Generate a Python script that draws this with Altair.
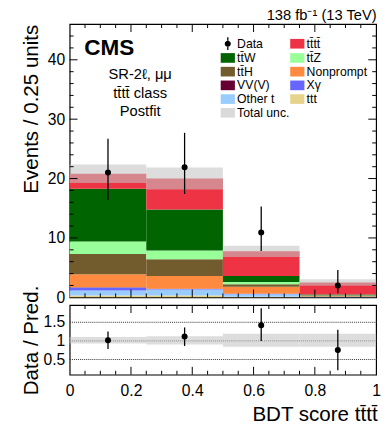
import altair as alt
import pandas as pd

# ---------------- data ----------------
bin_lo = [0.0, 0.25, 0.5, 0.75]
bin_hi = [0.25, 0.5, 0.75, 1.0]
bin_mid = [0.125, 0.375, 0.625, 0.875]

# processes, stacked bottom -> top
proc_names = ["ttt", "Other t", "X\u03b3", "VV(V)", "Nonprompt",
              "tt\u0304H", "tt\u0304Z", "tt\u0304W", "tt\u0304tt\u0304"]
proc_colors = ["#e6d48c", "#99ccff", "#6666ff", "#660033", "#fd8a3e",
               "#725b2c", "#99ff99", "#006400", "#ee3344"]

ttt_yield = [0.3, 0.3, 0.1, 0.03]
other_t_yield = [0.85, 1.0, 0.4, 0.05]
xgamma_yield = [0.5, 0.1, 0.1, 0.02]
vvv_yield = [0.05, 0.05, 0.02, 0.01]
nonprompt_yield = [2.2, 2.15, 1.18, 0.08]
tth_yield = [3.4, 2.8, 0.4, 0.1]
ttz_yield = [2.1, 1.5, 0.4, 0.05]
ttw_yield = [8.9, 6.9, 1.0, 0.12]
tttt_yield = [2.5, 5.2, 4.15, 2.04]
total_unc = [1.55, 1.85, 0.95, 0.55]

data_y = [21.0, 21.9, 10.9, 2.0]
data_hi = [26.7, 27.7, 15.3, 4.6]
data_lo = [16.4, 17.4, 7.8, 0.7]

ratio_y = [1.0, 1.10, 1.40, 0.74]
ratio_hi = [1.23, 1.34, 1.85, 1.28]
ratio_lo = [0.77, 0.85, 0.98, 0.21]
ratio_unc = [0.085, 0.11, 0.17, 0.17]

legend_names = ["Data", "tt\u0304tt\u0304", "tt\u0304W", "tt\u0304Z", "tt\u0304H",
                "Nonprompt", "VV(V)", "X\u03b3", "Other t", "ttt", "Total unc."]
legend_colors = ["#000000", "#ee3344", "#006400", "#99ff99", "#725b2c",
                 "#fd8a3e", "#660033", "#6666ff", "#99ccff", "#e6d48c", "#dadada"]

main_y_labels = [0, 10, 20, 30, 40]
ratio_y_labels = [0.5, 1.0, 1.5]
x_labels = [0, 0.2, 0.4, 0.6, 0.8, 1.0]

# ---------------- tables ----------------
yield_lists = [ttt_yield, other_t_yield, xgamma_yield, vvv_yield, nonprompt_yield,
               tth_yield, ttz_yield, ttw_yield, tttt_yield]
rows = []
for b in range(4):
    base = 0.0
    for k, name in enumerate(proc_names):
        v = yield_lists[k][b]
        rows.append({"lo": bin_lo[b], "hi": bin_hi[b], "process": name,
                     "y0": base, "y1": base + v})
        base += v
stack_df = pd.DataFrame(rows)
totals = [sum(yl[b] for yl in yield_lists) for b in range(4)]

band_df = pd.DataFrame({"lo": bin_lo, "hi": bin_hi,
                        "blo": [t - u for t, u in zip(totals, total_unc)],
                        "bhi": [t + u for t, u in zip(totals, total_unc)]})
data_df = pd.DataFrame({"x": bin_mid, "y": data_y, "ylo": data_lo, "yhi": data_hi})
ratio_df = pd.DataFrame({"x": bin_mid, "y": ratio_y, "ylo": ratio_lo, "yhi": ratio_hi})
rband_df = pd.DataFrame({"lo": bin_lo, "hi": bin_hi,
                         "blo": [1 - u for u in ratio_unc],
                         "bhi": [1 + u for u in ratio_unc]})
legend_df = pd.DataFrame({"entry": legend_names})

# ---------------- geometry ----------------
W = 313
H_MAIN = 279
H_RATIO = 71
FONT = "Liberation Sans"
UNC_COLOR = "#c4c4c4"
UNC_OPACITY = 0.58

xs_main = alt.Scale(domain=[0, 1], nice=False, zero=False)
ys_main = alt.Scale(domain=[0, 46], nice=False, zero=False)
xs_ratio = alt.Scale(domain=[0, 1], nice=False, zero=False)
ys_ratio = alt.Scale(domain=[0.09, 1.93], nice=False, zero=False)

x_major = [0.2, 0.4, 0.6, 0.8]
x_minor = [round(0.05 * i, 2) for i in range(1, 20) if i % 4 != 0]
y_major = [10, 20, 30, 40]
y_minor = [v for v in range(2, 46, 2) if v % 10 != 0]

LBL = dict(labelFont=FONT, labelFontSize=16, labelColor="black",
           titleFont=FONT, titleFontSize=21, titleColor="black",
           titleFontWeight="normal")

# axes (same definition given to every layer so they merge cleanly)
ax_main_x = alt.Axis(values=x_labels, labels=False, ticks=False, tickSize=0,
                     domain=False, grid=False, title=None)
ax_main_y = alt.Axis(values=main_y_labels, title="Events / 0.25 units",
                     titleAnchor="end", titleX=-33, titleBaseline="alphabetic",
                     ticks=False, tickSize=0, domain=False, grid=False,
                     labelPadding=5, labelFlush=False, **LBL)
ax_ratio_x = alt.Axis(values=x_labels, format=".1~f", title="BDT score tt\u0304tt\u0304",
                      titleAnchor="end", titleAlign="right", titleX=W + 1, titleY=47,
                      titleBaseline="alphabetic", ticks=False, tickSize=0,
                      domain=False, grid=False, labelPadding=8, labelFlush=False, **LBL)
ax_ratio_y = alt.Axis(values=ratio_y_labels, format=".1~f", title="Data / Pred.",
                      titleX=-33, titleBaseline="alphabetic",
                      ticks=False, tickSize=0, domain=False, grid=True,
                      gridDash=[1, 1], gridColor="#333333", gridWidth=1,
                      labelPadding=5, labelFlush=False, **LBL)


def x_ticks(vals, xs, ax, length, side, H):
    df = pd.DataFrame({"v": vals})
    ya, yb = (H - length, H) if side == "bottom" else (0, length)
    return alt.Chart(df).mark_rule(color="black", strokeWidth=1).encode(
        x=alt.X("v:Q", scale=xs, axis=ax),
        y=alt.value(ya), y2=alt.value(yb))


def y_ticks(vals, ys, ax, length, side):
    df = pd.DataFrame({"v": vals})
    xa, xb = (0, length) if side == "left" else (W - length, W)
    return alt.Chart(df).mark_rule(color="black", strokeWidth=1).encode(
        y=alt.Y("v:Q", scale=ys, axis=ax),
        x=alt.value(xa), x2=alt.value(xb))


# ---------------- main panel ----------------
bars = alt.Chart(stack_df).mark_rect(strokeWidth=0).encode(
    x=alt.X("lo:Q", scale=xs_main, axis=ax_main_x),
    x2="hi:Q",
    y=alt.Y("y0:Q", scale=ys_main, axis=ax_main_y),
    y2="y1:Q",
    color=alt.Color("process:N",
                    scale=alt.Scale(domain=proc_names, range=proc_colors),
                    legend=None),
)

band = alt.Chart(band_df).mark_rect(color=UNC_COLOR, opacity=UNC_OPACITY).encode(
    x=alt.X("lo:Q", scale=xs_main, axis=ax_main_x), x2="hi:Q",
    y=alt.Y("blo:Q", scale=ys_main, axis=ax_main_y), y2="bhi:Q")

errs = alt.Chart(data_df).mark_rule(color="black", strokeWidth=1.3).encode(
    x=alt.X("x:Q", scale=xs_main, axis=ax_main_x),
    y=alt.Y("ylo:Q", scale=ys_main, axis=ax_main_y), y2="yhi:Q")

pts = alt.Chart(data_df).mark_circle(color="black", size=38, opacity=1).encode(
    x=alt.X("x:Q", scale=xs_main, axis=ax_main_x),
    y=alt.Y("y:Q", scale=ys_main, axis=ax_main_y))

cms = alt.Chart(pd.DataFrame({"t": ["CMS"]})).mark_text(
    align="left", baseline="alphabetic", font=FONT, fontSize=23,
    fontWeight="bold", color="black").encode(
    text="t:N", x=alt.value(15), y=alt.value(31))

info = alt.Chart(pd.DataFrame({"a": [0]})).mark_text(
    text=["SR-2\u2113, \u03bc\u03bc", "tt\u0304tt\u0304 class", "Postfit"],
    lineHeight=19, align="center", baseline="alphabetic", font=FONT,
    fontSize=15, color="black").encode(x=alt.value(72), y=alt.value(56))

rect_path = "M-1,-0.68 H1 V0.68 H-1 Z"
dot_path = ("M-0.43,0 A0.43,0.43 0 1,0 0.43,0 A0.43,0.43 0 1,0 -0.43,0 Z "
            "M-0.09,-0.9 H0.09 V-0.38 H-0.09 Z M-0.09,0.38 H0.09 V0.9 H-0.09 Z")
legend_shapes = [dot_path] + [rect_path] * 10

leg = alt.Legend(title=None, orient="none", legendX=154, legendY=12, columns=2,
                 direction="horizontal",
                 symbolSize=210, symbolStrokeWidth=0, symbolOpacity=1,
                 labelFont=FONT, labelFontSize=12.5, labelColor="black",
                 labelOffset=2, rowPadding=0, columnPadding=-4, padding=0,
                 labelLimit=0)

legend_layer = alt.Chart(legend_df).mark_point(filled=True, opacity=0).encode(
    color=alt.Color("entry:N", scale=alt.Scale(domain=legend_names, range=legend_colors),
                    legend=leg),
    shape=alt.Shape("entry:N", scale=alt.Scale(domain=legend_names, range=legend_shapes),
                    legend=leg),
)

main = alt.layer(
    bars, band, errs, pts,
    x_ticks(x_major, xs_main, ax_main_x, 8, "bottom", H_MAIN),
    x_ticks(x_minor, xs_main, ax_main_x, 4, "bottom", H_MAIN),
    x_ticks(x_major, xs_main, ax_main_x, 8, "top", H_MAIN),
    x_ticks(x_minor, xs_main, ax_main_x, 4, "top", H_MAIN),
    y_ticks(y_major, ys_main, ax_main_y, 8, "left"),
    y_ticks(y_minor, ys_main, ax_main_y, 4, "left"),
    y_ticks(y_major, ys_main, ax_main_y, 8, "right"),
    y_ticks(y_minor, ys_main, ax_main_y, 4, "right"),
    cms, info, legend_layer,
).resolve_scale(color="independent", shape="independent").properties(
    width=W, height=H_MAIN,
    title=alt.TitleParams("138 fb\u207b\u00b9 (13 TeV)", anchor="end", fontSize=15,
                          fontWeight="normal", font=FONT, color="black", offset=1),
)

# ---------------- ratio panel ----------------
rband = alt.Chart(rband_df).mark_rect(color=UNC_COLOR, opacity=UNC_OPACITY).encode(
    x=alt.X("lo:Q", scale=xs_ratio, axis=ax_ratio_x), x2="hi:Q",
    y=alt.Y("blo:Q", scale=ys_ratio, axis=ax_ratio_y), y2="bhi:Q")

rerrs = alt.Chart(ratio_df).mark_rule(color="black", strokeWidth=1.3).encode(
    x=alt.X("x:Q", scale=xs_ratio, axis=ax_ratio_x),
    y=alt.Y("ylo:Q", scale=ys_ratio, axis=ax_ratio_y), y2="yhi:Q")

rpts = alt.Chart(ratio_df).mark_circle(color="black", size=38, opacity=1).encode(
    x=alt.X("x:Q", scale=xs_ratio, axis=ax_ratio_x),
    y=alt.Y("y:Q", scale=ys_ratio, axis=ax_ratio_y))

ratio = alt.layer(
    rband, rerrs, rpts,
    x_ticks(x_major, xs_ratio, ax_ratio_x, 8, "bottom", H_RATIO),
    x_ticks(x_minor, xs_ratio, ax_ratio_x, 4, "bottom", H_RATIO),
    x_ticks(x_major, xs_ratio, ax_ratio_x, 8, "top", H_RATIO),
    x_ticks(x_minor, xs_ratio, ax_ratio_x, 4, "top", H_RATIO),
).properties(width=W, height=H_RATIO)

chart = alt.vconcat(main, ratio, spacing=8, bounds="flush").properties(
    padding={"left": 12, "top": -6, "right": 0, "bottom": 0}
).configure(font=FONT).configure_view(stroke="black", strokeWidth=1.2)

chart.save("out.html", embed_options={"renderer": "svg", "actions": False})
